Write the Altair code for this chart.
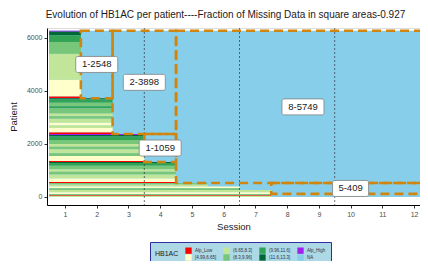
import altair as alt
import pandas as pd

# ---------------- data ----------------
total_patients = 6275
max_session = 12
x_ticks = list(range(1, 13))
y_ticks = [0, 2000, 4000, 6000]

L, Y, G1, G2, G3, G4, H = ("Alp_Low", "[4.99,6.65]", "(6.65,8.3]", "(8.3,9.96]",
                           "(9.96,11.6]", "(11.6,13.3]", "Alp_High")

# horizontal bands of patients (sorted), number of observed sessions, HB1AC class
band_top = [6275, 6238, 6100, 5850, 5400, 4420, 3790,
            3727, 3680, 3560, 3420, 3350, 3150, 3050, 2950, 2800, 2700, 2600, 2430,
            2377, 2340, 2280, 2150, 2000, 1900, 1800, 1650, 1550, 1360,
            1318, 1280, 1180, 1050, 950, 850, 700, 570,
            526, 470, 400, 330, 260, 180, 117, 80, 50]
band_bottom = [6238, 6100, 5850, 5400, 4420, 3790, 3727,
               3680, 3560, 3420, 3350, 3150, 3050, 2950, 2800, 2700, 2600, 2430, 2377,
               2340, 2280, 2150, 2000, 1900, 1800, 1650, 1550, 1360, 1318,
               1280, 1180, 1050, 950, 850, 700, 570, 526,
               470, 400, 330, 260, 180, 117, 80, 50, 0]
band_sessions = [1] * 7 + [2] * 12 + [3] * 10 + [4] * 8 + [5, 5, 6, 6, 7, 7, 7, 7, 7]
band_class = [H, G4, G3, G2, G1, Y, L,
              G4, G3, G2, G3, G2, G1, G2, G1, Y, G1, Y, L,
              H, G4, G3, G2, G1, G2, G1, G2, Y, L,
              G4, G3, G2, G1, G2, G1, Y, L,
              G2, G1, Y, G2, G1, Y, G2, L, G1]

# missing-data squares
box_label = ["1-2548", "2-3898", "1-1059", "8-5749", "5-409"]
box_x0 = [1.5, 2.5, 3.5, 4.5, 7.5]
box_x1 = [2.5, 4.5, 4.5, 12.5, 12.5]
box_y0 = [3727, 2377, 1318, 526, 117]
box_y1 = [6275, 6275, 2377, 6275, 526]

vlines = [3.5, 6.5, 9.5]

# legend order (row-major fill of a 4-column grid -> column-major look)
legend_domain = [L, G1, G3, H, Y, G2, G4, "NA"]
legend_range = ["#FF0000", "#C2E699", "#31A354", "#A020F0",
                "#FFFFCC", "#78C679", "#006837", "#87CEEB"]

title_text = "Evolution of HB1AC per patient----Fraction of Missing Data in square areas-0.927"

# ---------------- tables ----------------
bands = pd.DataFrame({"top": band_top, "bottom": band_bottom,
                      "n": band_sessions, "cls": band_class})
bands["x0"] = 0.5
bands["x1"] = bands["n"] + 0.5
na_bg = pd.DataFrame({"x0": [0.5], "x1": [max_session + 0.5], "bottom": [0],
                      "top": [total_patients], "cls": ["NA"]})
boxes = pd.DataFrame({"label": box_label, "x0": box_x0, "x1": box_x1,
                      "y0": box_y0, "y1": box_y1})
boxes["cx"] = (boxes["x0"] + boxes["x1"]) / 2
boxes["cy"] = (boxes["y0"] + boxes["y1"]) / 2
vl = pd.DataFrame({"x": vlines})

FONT = "Liberation Sans"
xscale = alt.Scale(domain=[0.433, 12.188], nice=False, zero=False)
yscale = alt.Scale(domain=[-302, 6377], nice=False, zero=False)
cscale = alt.Scale(domain=legend_domain, range=legend_range)

xaxis = alt.Axis(title="Session", values=x_ticks, grid=False, tickSize=3,
                 labelPadding=2, titlePadding=4, labelFontSize=7,
                 titleFontSize=9.5, titleFontWeight="normal",
                 labelColor="#4D4D4D", titleColor="#1A1A1A",
                 domainColor="#000000", tickColor="#333333", labelFlush=False)
yaxis = alt.Axis(title="Patient", values=y_ticks, format="d", grid=False,
                 tickSize=3, labelPadding=2, titlePadding=8, labelFontSize=7,
                 titleFontSize=9.5, titleFontWeight="normal",
                 labelColor="#4D4D4D", titleColor="#1A1A1A",
                 domainColor="#000000", tickColor="#333333")

legend = alt.Legend(orient="none", legendX=103, legendY=214, direction="horizontal",
                    columns=4, title="HB1AC", titleOrient="left",
                    titleFontSize=7, titleFontWeight="normal", titleColor="#1A1A1A",
                    titlePadding=6, labelFontSize=4.5, labelColor="#333333",
                    symbolType="square", symbolSize=40, symbolStrokeWidth=0,
                    symbolOpacity=1, fillColor="#ADD8E6", strokeColor="#2E2E9E",
                    padding=5, rowPadding=0, columnPadding=6, labelOffset=3)


def X(field):
    return alt.X(field, scale=xscale, axis=xaxis)


def Yc(field):
    return alt.Y(field, scale=yscale, axis=yaxis)


base_na = alt.Chart(na_bg).mark_rect(clip=True).encode(
    x=X("x0:Q"), x2="x1:Q", y=Yc("bottom:Q"), y2="top:Q",
    color=alt.Color("cls:N", scale=cscale, legend=legend),
)

band_layer = alt.Chart(bands).mark_rect(clip=True).encode(
    x=X("x0:Q"), x2="x1:Q", y=Yc("bottom:Q"), y2="top:Q",
    color=alt.Color("cls:N", scale=cscale, legend=legend),
)

rules = alt.Chart(vl).mark_rule(color="#333333", strokeWidth=0.7,
                                strokeDash=[2, 2]).encode(x=X("x:Q"))

box_layer = alt.Chart(boxes).mark_rect(
    clip=True, fill="#ffffff", fillOpacity=0, stroke="#D0860E",
    strokeWidth=2.6, strokeDash=[9, 5]).encode(
    x=X("x0:Q"), x2="x1:Q", y=Yc("y0:Q"), y2="y1:Q")

lab_wide = alt.Chart(boxes).transform_filter("length(datum.label) >= 6").mark_rect(
    fill="#ffffff", stroke="#808080", strokeWidth=0.8, cornerRadius=2,
    xOffset=-21, x2Offset=21, yOffset=-8, y2Offset=8).encode(
    x=X("cx:Q"), x2="cx:Q", y=Yc("cy:Q"), y2="cy:Q")

lab_narrow = alt.Chart(boxes).transform_filter("length(datum.label) < 6").mark_rect(
    fill="#ffffff", stroke="#808080", strokeWidth=0.8, cornerRadius=2,
    xOffset=-18, x2Offset=18, yOffset=-8, y2Offset=8).encode(
    x=X("cx:Q"), x2="cx:Q", y=Yc("cy:Q"), y2="cy:Q")

lab_text = alt.Chart(boxes).mark_text(fontSize=9.5, font=FONT, color="#1A1A1A",
                                      baseline="middle", align="center").encode(
    x=X("cx:Q"), y=Yc("cy:Q"), text="label:N")

chart = alt.layer(base_na, band_layer, rules, box_layer, lab_wide, lab_narrow,
                  lab_text).properties(
    width=373, height=177,
    autosize=alt.AutoSizeParams(type="none"),
    padding={"left": 39, "top": 20, "right": 0, "bottom": 56},
    title=alt.TitleParams(title_text, fontSize=10, fontWeight="normal",
                          font=FONT, color="#1A1A1A", anchor="middle",
                          offset=8, dx=-8),
).configure_view(stroke=None).configure(font=FONT)

chart.save("out.html", embed_options={"renderer": "svg", "actions": False})
